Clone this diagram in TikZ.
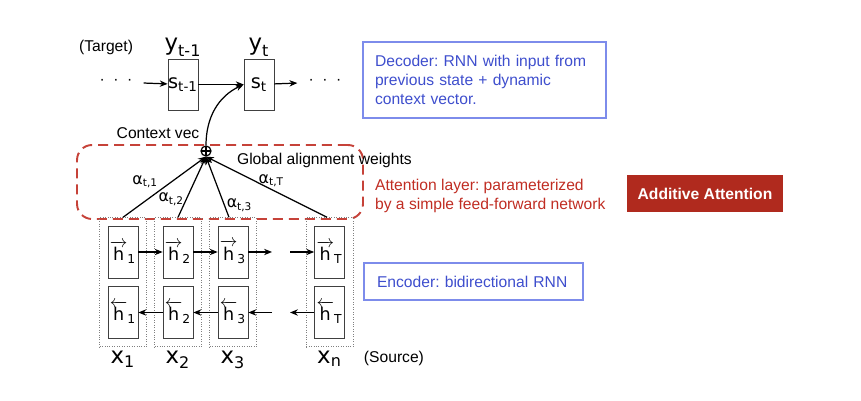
\documentclass[tikz,border=0pt]{standalone}
\usepackage{amsmath}
\usepackage{fontspec}
\setmainfont{Liberation Sans}
\newfontfamily\dvs{DejaVu Sans}
\usepackage{xcolor}
\usetikzlibrary{arrows.meta, positioning, fit}
\frenchspacing

\newcommand{\djv}[1]{\text{\dvs #1}}
\definecolor{encblue}{RGB}{62,78,205}
\definecolor{boxblue}{RGB}{125,140,235}
\definecolor{attred}{RGB}{192,45,35}
\definecolor{addred}{RGB}{176,42,30}

\begin{document}
\begin{tikzpicture}[
    x=0.02cm, y=-0.02cm,
    >=Stealth,
    txt/.style={font=\fontsize{8.9}{10.8}\selectfont, inner sep=1pt},
    bigsym/.style={font=\fontsize{13}{15}\selectfont, inner sep=1pt},
    statebox/.style={draw=gray!50!black, minimum width=0.6cm, minimum height=1.02cm,
                     inner sep=0pt, font=\fontsize{11}{13}\selectfont},
    hbox/.style={draw=gray!50!black, minimum width=0.6cm, minimum height=1.04cm,
                 inner sep=0pt, font=\fontsize{10}{12}\selectfont},
    colbox/.style={draw=gray, densely dotted, inner sep=0.16cm},
    dots/.style={font=\fontsize{8.9}{10.8}\selectfont, inner xsep=0.22cm},
    note/.style={draw=boxblue, line width=0.8pt, text=encblue, align=left,
                 font=\fontsize{8.9}{10.8}\selectfont},
    arr/.style={->, line width=0.7pt, >={Stealth[length=4.5pt, width=3.6pt]}},
    alab/.style={font=\fontsize{9}{10}\selectfont, inner sep=1pt},
]
\useasboundingbox (0,0) rectangle (861,401);

% decoder
\node[statebox] (st1) at (183,84.5) {$\djv{s}_{\djv{t-1}}$};
\node[statebox] (st) at (259,84.5) {$\djv{s}_{\djv{t}}$};
\node[bigsym, above=0pt of st1] (yt1) {$\djv{y}_{\djv{t-1}}$};
\node[bigsym, above=0pt of st] (yt) {$\djv{y}_{\djv{t}}$};
\node[txt, left=0.55cm of yt1] (target) {(Target)};

\node[dots] (dotsl) at (116,82) {·\hskip0.17cm·\hskip0.17cm·};
\node[dots] (dotsr) at (325,82) {·\hskip0.17cm·\hskip0.17cm·};
\draw[arr] (dotsl) -- (st1);
\draw[arr] (st1) -- (st);
\draw[arr] (st) -- (dotsr);

\node[note, minimum width=4.86cm, minimum height=1.52cm, text width=4.38cm,
      inner xsep=0.24cm] (dec) at (484.5,80)
    {Decoder: RNN with input from\\previous state + dynamic\\context vector.};

% attention layer
\node[draw=attred!90, dashed, line width=1.1pt, dash pattern=on 0.2cm off 0.12cm,
      rounded corners=0.3cm, minimum width=5.72cm, minimum height=1.48cm] (att) at (220,182) {};
\node[circle, draw, line width=0.7pt, minimum size=0.2cm, inner sep=0pt, fill=white,
      path picture={\draw (path picture bounding box.north) -- (path picture bounding box.south)
                          (path picture bounding box.west) -- (path picture bounding box.east);}]
    (plus) at (206,151) {};
\node[txt] (ctx) at (158,133) {Context vec};
\node[txt, anchor=west] (glob) at (235,160) {Global alignment weights};
\draw[arr] (plus.north) to[out=90, in=205] (st.west);

\node[txt, text=attred, align=left, anchor=west] (atttxt) at (373,196)
    {Attention layer: parameterized\\by a simple feed-forward network};
\node[fill=addred, text=white, font=\fontsize{8.9}{10.8}\selectfont\bfseries,
      minimum width=3.12cm, minimum height=0.74cm] (add) at (705,193.5) {Additive Attention};

% encoder
\node[hbox] (f1) at (123,252) {$\overrightarrow{\djv{h}}_{\djv{1}}$};
\node[hbox] (f2) at (178,252) {$\overrightarrow{\djv{h}}_{\djv{2}}$};
\node[hbox] (f3) at (233,252) {$\overrightarrow{\djv{h}}_{\djv{3}}$};
\node[hbox] (fT) at (329.5,252) {$\overrightarrow{\djv{h}}_{\djv{T}}$};
\node[hbox] (b1) at (123,312.5) {$\overleftarrow{\djv{h}}_{\djv{1}}$};
\node[hbox] (b2) at (178,312.5) {$\overleftarrow{\djv{h}}_{\djv{2}}$};
\node[hbox] (b3) at (233,312.5) {$\overleftarrow{\djv{h}}_{\djv{3}}$};
\node[hbox] (bT) at (329.5,312.5) {$\overleftarrow{\djv{h}}_{\djv{T}}$};

\node[colbox, fit=(f1)(b1)] (c1) {};
\node[colbox, fit=(f2)(b2)] (c2) {};
\node[colbox, fit=(f3)(b3)] (c3) {};
\node[colbox, fit=(fT)(bT)] (cT) {};

\coordinate (fa) at (272,252);
\coordinate (fb) at (290,252);
\coordinate (ba) at (272,312.5);
\coordinate (bb) at (290,312.5);

\draw[arr] (f1) -- (f2);
\draw[arr] (f2) -- (f3);
\draw[arr] (f3) -- (fa);
\draw[arr] (fb) -- (fT);
\draw[arr] (b2) -- (b1);
\draw[arr] (b3) -- (b2);
\draw[arr] (ba) -- (b3);
\draw[arr] (bT) -- (bb);

\draw[arr] (c1.north) -- node[alab, pos=.45, anchor=south east] {$\djv{α}_{\djv{t,1}}$} (plus.south);
\draw[arr] (c2.north) -- node[alab, pos=.3, left] {$\djv{α}_{\djv{t,2}}$} (plus.south);
\draw[arr] ([xshift=-0.08cm]c3.north) -- node[alab, pos=.2, right] {$\djv{α}_{\djv{t,3}}$} (plus.south);
\draw[arr] ([xshift=-0.05cm]cT.north) -- node[alab, pos=.46, above] {$\djv{α}_{\djv{t,T}}$} (plus.south);

\node[bigsym, below=1pt of c1] (x1) {$\djv{x}_{\djv{1}}$};
\node[bigsym, below=1pt of c2] (x2) {$\djv{x}_{\djv{2}}$};
\node[bigsym, below=1pt of c3] (x3) {$\djv{x}_{\djv{3}}$};
\node[bigsym, below=1pt of cT] (xn) {$\djv{x}_{\djv{n}}$};
\node[txt, right=0.36cm of xn] (src) {(Source)};

\node[note, minimum width=4.38cm, minimum height=0.74cm, text width=3.86cm,
      inner xsep=0.26cm] (enc) at (473.5,281.5) {Encoder: bidirectional RNN};
\end{tikzpicture}
\end{document}
